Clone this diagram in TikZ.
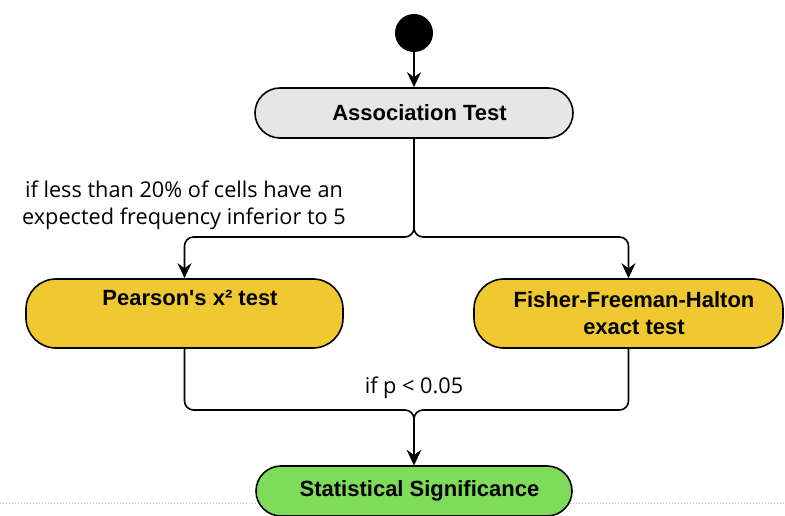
\documentclass[tikz,border=0pt]{standalone}
\usepackage{fontspec}
\setmainfont{Liberation Sans}[Ligatures=TeXOff]
\newfontfamily\lblfont{Open Sans}
\usetikzlibrary{arrows.meta}
\definecolor{grayfill}{HTML}{E6E6E6}
\definecolor{yellowfill}{HTML}{F0C832}
\definecolor{greenfill}{HTML}{7FDB5A}
\newcommand{\padl}{\hspace*{11pt}}
\begin{document}
\begin{tikzpicture}[x=1pt,y=-1pt,
  actbox/.style={draw=black, line width=1.6pt, rounded corners=25pt, font=\bfseries\fontsize{22}{27}\selectfont, align=center, inner sep=0pt},
  conn/.style={line width=1.6pt, rounded corners=9pt, -{Stealth[length=15pt,width=14pt,inset=5pt]}},
  lbl/.style={font=\lblfont\fontsize{21.7}{27}\selectfont, align=center}]
\useasboundingbox (0,0) rectangle (785,516);
\draw[black!25, dotted, line width=1pt] (0,503) -- (785,503);
\node[circle, fill=black, minimum size=38pt, inner sep=0pt] (start) at (414,33) {};
\node[actbox, fill=grayfill, minimum width=318pt, minimum height=50pt] (assoc) at (414,113) {\padl Association Test};
\node[actbox, fill=yellowfill, minimum width=317pt, minimum height=69pt, rounded corners=30pt] (pearson) at (184.5,313.5) {\padl\raisebox{-4pt}{Pearson's x² test}\\\strut};
\node[actbox, fill=yellowfill, minimum width=309pt, minimum height=69pt, rounded corners=30pt] (fisher) at (628.5,313.5) {\padl\raisebox{-3pt}{Fisher-Freeman-Halton}\\\padl\raisebox{-3pt}{exact test}};
\node[actbox, fill=greenfill, minimum width=316pt, minimum height=50pt] (stat) at (414,491) {\padl Statistical Significance};
\coordinate (split) at (414,237);
\coordinate (merge) at (414,410);
\draw[conn] (start) -- (assoc);
\draw[conn] (assoc.south) -- (split) -| (pearson.north);
\draw[conn] (assoc.south) -- (split) -| (fisher.north);
\draw[conn] (pearson.south) |- (merge) -- (stat.north);
\draw[conn] (fisher.south) |- (merge) -- (stat.north);
\node[lbl] (cond1) at (184,205.5) {if less than 20\% of cells have an\\expected frequency inferior to 5};
\node[lbl] (cond2) at (414,388) {if p < 0.05};
\end{tikzpicture}
\end{document}
